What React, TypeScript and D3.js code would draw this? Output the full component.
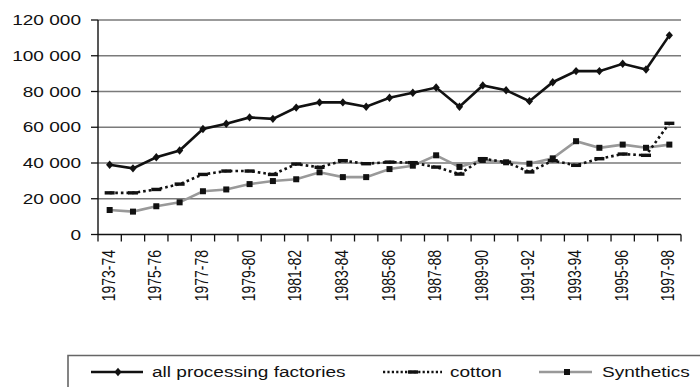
import React from "react";
import * as d3 from "d3";

// Seasons, one per year
const categories: string[] = [
  "1973-74", "1974-75", "1975-76", "1976-77", "1977-78", "1978-79", "1979-80",
  "1980-81", "1981-82", "1982-83", "1983-84", "1984-85", "1985-86", "1986-87",
  "1987-88", "1988-89", "1989-90", "1990-91", "1991-92", "1992-93", "1993-94",
  "1994-95", "1995-96", "1996-97", "1997-98",
];

const allFactories: number[] = [
  39000, 37000, 43200, 47000, 59000, 62000, 65500, 64700, 71000, 73900, 73900,
  71500, 76500, 79300, 82200, 71500, 83400, 80700, 74600, 85200, 91400, 91400,
  95500, 92300, 111400,
];

const cotton: number[] = [
  23300, 23300, 25200, 28200, 33600, 35500, 35500, 33600, 39400, 37600, 41300,
  39600, 40500, 40200, 37700, 33800, 42400, 40500, 35000, 41300, 38700, 42400,
  45000, 44300, 62200,
];

const synthetics: number[] = [
  13700, 12800, 15800, 18000, 24200, 25200, 28200, 29900, 30900, 34800, 32100,
  32100, 36600, 38500, 44300, 37800, 41700, 40400, 39600, 42600, 52200, 48500,
  50300, 48500, 50300,
];

const yTicks: number[] = [0, 20000, 40000, 60000, 80000, 100000, 120000];

const seriesNames: string[] = ["all processing factories", "cotton", "Synthetics"];

const WIDTH = 700;
const HEIGHT = 387;
const FONT = "'Liberation Sans', Arial, sans-serif";
const SX = 1.36; // horizontal widening of glyphs

const x = d3.scaleBand<string>().domain(categories).range([98, 681]).padding(0);
const y = d3.scaleLinear().domain([0, 120000]).range([234.5, 20]);
const cx = (c: string) => (x(c) as number) + x.bandwidth() / 2;

const fmt = (v: number) => {
  const s = d3.format(",")(v);
  return s.replace(/,/g, " ");
};

const lineGen = d3
  .line<number>()
  .x((_, i) => cx(categories[i]))
  .y((d) => y(d));

function WideText({
  x: tx,
  y: ty,
  anchor = "start",
  rotate = 0,
  children,
}: {
  x: number;
  y: number;
  anchor?: string;
  rotate?: number;
  children: React.ReactNode;
}) {
  return (
    <text
      transform={`translate(${tx},${ty}) scale(${SX},1) rotate(${rotate})`}
      textAnchor={anchor}
      fontFamily={FONT}
      fontSize={14}
      fill="#111"
    >
      {children}
    </text>
  );
}

function Diamond({ px, py }: { px: number; py: number }) {
  const w = 3.6;
  const h = 4.2;
  return (
    <path
      d={`M${px},${py - h}L${px + w},${py}L${px},${py + h}L${px - w},${py}Z`}
      fill="#111"
    />
  );
}

function Square({ px, py }: { px: number; py: number }) {
  return <rect x={px - 3} y={py - 3} width={6} height={6} fill="#111" />;
}

function Dash({ px, py }: { px: number; py: number }) {
  return <rect x={px - 5} y={py - 1.7} width={10} height={3.4} fill="#111" />;
}

export default function App() {
  const [x0, x1] = x.range();
  const bandEdges = categories.map((c) => x(c) as number).concat([x1]);

  return (
    <svg width={WIDTH} height={HEIGHT} style={{ position: "absolute", left: 0, top: 0, background: "#fff" }}>
      <rect x={0} y={0} width={WIDTH} height={HEIGHT} fill="#fff" />

      {/* horizontal gridlines */}
      {yTicks.slice(1).map((t) => (
        <line key={t} x1={x0} x2={x1} y1={y(t)} y2={y(t)} stroke="#7a7a7a" strokeWidth={1.4} />
      ))}

      {/* y axis */}
      <line x1={x0} x2={x0} y1={y(120000)} y2={y(0)} stroke="#111" strokeWidth={1.4} />
      {yTicks.map((t) => (
        <g key={t}>
          <line x1={x0 - 7} x2={x0} y1={y(t)} y2={y(t)} stroke="#111" strokeWidth={1.3} />
          <WideText x={81} y={y(t) + 5} anchor="end">
            {fmt(t)}
          </WideText>
        </g>
      ))}

      {/* x axis */}
      <line x1={x0} x2={x1} y1={y(0)} y2={y(0)} stroke="#111" strokeWidth={1.4} />
      {bandEdges.map((bx, i) => (
        <line key={i} x1={bx} x2={bx} y1={y(0)} y2={y(0) + 7} stroke="#111" strokeWidth={1.3} />
      ))}
      {categories.map((c, i) =>
        i % 2 === 0 ? (
          <WideText key={c} x={cx(c) + 5} y={250} anchor="end" rotate={-90}>
            {c}
          </WideText>
        ) : null
      )}

      {/* Synthetics */}
      <path d={lineGen(synthetics) as string} fill="none" stroke="#999" strokeWidth={2.6} />
      {synthetics.map((v, i) => (
        <Square key={i} px={cx(categories[i])} py={y(v)} />
      ))}

      {/* cotton */}
      <path
        d={lineGen(cotton) as string}
        fill="none"
        stroke="#111"
        strokeWidth={2.6}
        strokeDasharray="2.6,3"
      />
      {cotton.map((v, i) => (
        <Dash key={i} px={cx(categories[i])} py={y(v)} />
      ))}

      {/* all processing factories */}
      <path d={lineGen(allFactories) as string} fill="none" stroke="#111" strokeWidth={2.6} />
      {allFactories.map((v, i) => (
        <Diamond key={i} px={cx(categories[i])} py={y(v)} />
      ))}

      {/* legend */}
      <g>
        <path d={`M68,${HEIGHT + 5}V355.5H${WIDTH + 5}`} fill="none" stroke="#666" strokeWidth={1.6} />
        <line x1={91} x2={143} y1={372} y2={372} stroke="#111" strokeWidth={2.6} />
        <Diamond px={118} py={372} />
        <WideText x={152} y={377}>{seriesNames[0]}</WideText>

        <line x1={383} x2={442} y1={372} y2={372} stroke="#111" strokeWidth={2.4} strokeDasharray="2.2,2.2" />
        <Dash px={413} py={372} />
        <WideText x={450} y={377}>{seriesNames[1]}</WideText>

        <line x1={539} x2={592} y1={372} y2={372} stroke="#999" strokeWidth={2.6} />
        <Square px={567} py={372} />
        <WideText x={602} y={377}>{seriesNames[2]}</WideText>
      </g>
    </svg>
  );
}
